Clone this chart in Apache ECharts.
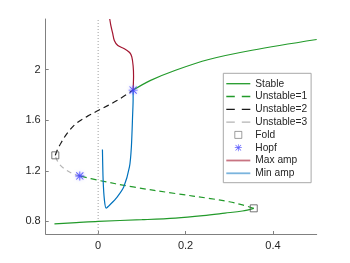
<!DOCTYPE html>
<html><head><meta charset="utf-8">
<script src="https://cdn.jsdelivr.net/npm/echarts@6/dist/echarts.min.js"></script>
<style>html,body{margin:0;padding:0;background:#fff}#c{width:350px;height:263px}</style>
</head><body><div id="c"></div>
<script>
// ---- data ----
const xTicks = [0, 0.2, 0.4];
const yTicks = [0.8, 1.2, 1.6, 2];
const stableLow = [[-0.1,0.78],[-0.05,0.79],[0,0.8],[0.1,0.813],[0.177,0.826],[0.24,0.845],[0.29,0.865],[0.33,0.882],[0.356,0.903]];
const stableHigh = [[0.08,1.838],[0.12,1.915],[0.177,1.995],[0.253,2.08],[0.352,2.153],[0.5,2.238]];
const unstable1 = [[0.356,0.903],[0.33,0.93],[0.3,0.955],[0.257,0.98],[0.177,1.02],[0.08,1.072],[0,1.125],[-0.042,1.159]];
const unstable2 = [[-0.098,1.322],[-0.094,1.36],[-0.085,1.42],[-0.071,1.495],[-0.05,1.575],[-0.025,1.63],[0,1.676],[0.043,1.755],[0.08,1.838]];
const unstable3 = [[-0.042,1.159],[-0.06,1.18],[-0.075,1.21],[-0.088,1.25],[-0.095,1.29],[-0.098,1.322]];
const foldPts = [[-0.098,1.322],[0.356,0.903]];
const hopfPts = [[-0.042,1.159],[0.08,1.838]];
const maxAmp = [[0.08,1.838],[0.081,1.95],[0.08,2.03],[0.077,2.1],[0.072,2.135],[0.06,2.165],[0.045,2.19],[0.037,2.23],[0.033,2.29],[0.029,2.35],[0.0265,2.4]];
const minAmp = [[0.08,1.838],[0.08,1.758],[0.079,1.653],[0.076,1.388],[0.0716,1.23],[0.0585,1.071],[0.0434,0.992],[0.0281,0.935],[0.0183,0.905],[0.0144,0.966],[0.0114,1.125],[0.0098,1.368]];
const zeroLine = [[0,0.7],[0,2.4]];

const green = '#229a2a';
const asterisk = 'path://M4.5,0H5.5V10H4.5Z M0,4.5H10V5.5H0Z M0.7,1.4L1.4,0.7L9.3,8.6L8.6,9.3Z M8.6,0.7L9.3,1.4L1.4,9.3L0.7,8.6Z';
const square = 'path://M0,0H10V10H0Z';
const solidIcon = 'path://M0,0H24V1.3H0Z';
const dashIcon = 'path://M0,0H8.5V1.3H0Z M15.5,0H24V1.3H15.5Z';

function lineSeries(name, data, color, type, smooth) {
  return {name, type:'line', data, symbol:'none', smooth: smooth === undefined ? 0.35 : smooth,
    lineStyle:{color, width:1.2, type: type || 'solid'}, itemStyle:{color}, z:3};
}

const chart = echarts.init(document.getElementById('c'), null, {renderer:'canvas'});
chart.setOption({
  animation:false,
  backgroundColor:'#fff',
  grid:{left:45.7, right:33.3, top:19, bottom:29},
  xAxis:{type:'value', min:-0.12, max:0.5,
    splitLine:{show:false},
    axisLine:{show:true, onZero:false, lineStyle:{color:'#808080', width:1}},
    axisTick:{show:true, inside:true, length:3, customValues:xTicks, lineStyle:{color:'#808080'}},
    axisLabel:{customValues:xTicks, margin:6, color:'#262626', fontSize:11, fontFamily:'Liberation Sans, Arial, sans-serif'}},
  yAxis:{type:'value', min:0.7, max:2.4,
    splitLine:{show:false},
    axisLine:{show:true, onZero:false, lineStyle:{color:'#808080', width:1}},
    axisTick:{show:true, inside:true, length:3, customValues:yTicks, lineStyle:{color:'#808080'}},
    axisLabel:{customValues:yTicks, margin:5, color:'#262626', fontSize:11, fontFamily:'Liberation Sans, Arial, sans-serif'}},
  legend:{
    orient:'vertical', left:223.3, top:73.3,
    data:[
      {name:'Stable', icon:solidIcon},
      {name:'Unstable=1', icon:dashIcon},
      {name:'Unstable=2', icon:dashIcon},
      {name:'Unstable=3', icon:dashIcon},
      {name:'Fold', itemStyle:{color:'rgba(0,0,0,0)', borderColor:'#666', borderWidth:0.8}},
      {name:'Hopf'},
      {name:'Max amp', icon:'path://M0,0H24V1.8H0Z', itemStyle:{color:'#c87482'}},
      {name:'Min amp', icon:'path://M0,0H24V1.8H0Z', itemStyle:{color:'#7ab4dd'}}
    ],
    itemWidth:24, itemHeight:7, itemGap:0, symbolKeepAspect:true,
    padding:[4,4,3,3],
    borderColor:'#a8a8a8', borderWidth:1, backgroundColor:'#fff',
    textStyle:{fontSize:10.2, lineHeight:12.8, color:'#262626', fontFamily:'Liberation Sans, Arial, sans-serif'},
    selectedMode:false
  },
  series:[
    {type:'line', data:zeroLine, symbol:'none', silent:true, lineStyle:{color:'#a0a0a0', width:1, type:[1,2]}, z:1},
    lineSeries('Stable', stableLow, green),
    lineSeries('Stable', stableHigh, green),
    lineSeries('Unstable=1', unstable1, green, [6,4]),
    lineSeries('Unstable=2', unstable2, '#1a1a1a', [6,4]),
    lineSeries('Unstable=3', unstable3, '#b4b4b4', [5,4]),
    lineSeries('Max amp', maxAmp, '#a2142f', 'solid', 0.25),
    lineSeries('Min amp', minAmp, '#0072bd', 'solid', 0.25),
    {name:'Fold', type:'scatter', data:foldPts, symbol:square, symbolSize:7, symbolKeepAspect:true,
      itemStyle:{color:'rgba(0,0,0,0)', borderColor:'#555', borderWidth:1}, z:5},
    {name:'Hopf', type:'scatter', data:hopfPts, symbol:asterisk, symbolSize:9, symbolKeepAspect:true,
      itemStyle:{color:'#3c3cff', shadowColor:'rgba(120,120,255,0.7)', shadowBlur:3}, z:6}
  ]
});
</script></body></html>
